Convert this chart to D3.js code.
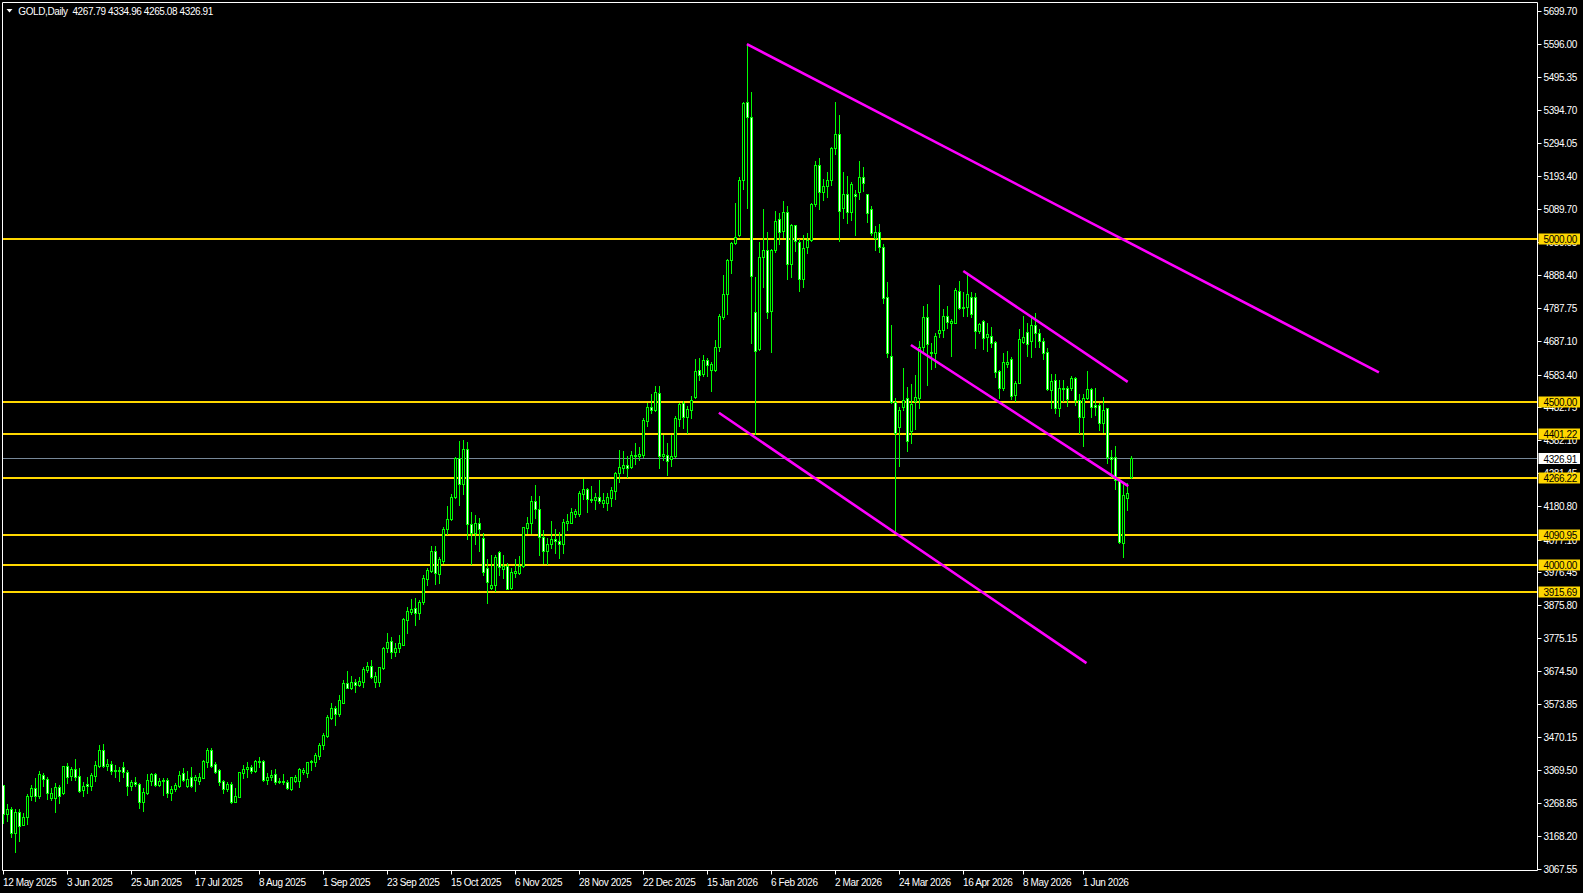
<!DOCTYPE html>
<html><head><meta charset="utf-8">
<script src="https://cdn.jsdelivr.net/npm/d3@7"></script>
<style>html,body{margin:0;padding:0;background:#000;overflow:hidden}text{font-family:"Liberation Sans",Arial,sans-serif;font-size:10px;letter-spacing:-0.4px}</style>
</head><body>
<svg id="c" width="1583" height="893"></svg>
<script>
// ---- data (daily GOLD bars, index 0 = 12 May 2025) ----
const openP=[3323,3234,3250,3176,3240,3203,3227,3289,3314,3290,3354,3342,3285,3285,3317,3299,3382,3352,3372,3353,
3309,3326,3322,3353,3384,3432,3384,3389,3370,3366,3380,3365,3322,3334,3326,3271,3301,3337,3358,3324,
3340,3340,3301,3312,3322,3360,3322,3348,3340,3337,3347,3396,3432,3389,3370,3336,3312,3327,3273,3288,
3362,3372,3378,3368,3396,3398,3340,3348,3357,3336,3332,3334,3312,3337,3336,3365,3362,3394,3394,3414,
3447,3474,3531,3559,3542,3577,3636,3623,3639,3631,3641,3677,3689,3641,3641,3682,3743,3766,3733,3746,
3754,3830,3856,3866,3853,3887,3956,3982,4042,3973,4012,4108,4140,4207,4326,4249,4354,4124,4096,4127,
4081,3989,3930,3938,4038,3987,3997,3930,3976,3975,3997,4114,4127,4195,4170,4084,4043,4065,4079,4074,
4063,4129,4129,4157,4155,4217,4231,4203,4198,4207,4188,4188,4205,4227,4280,4298,4306,4301,4337,4332,
4337,4442,4483,4475,4528,4332,4337,4323,4332,4448,4497,4453,4475,4514,4597,4586,4627,4597,4597,4669,
4760,4829,4934,4986,5011,5179,5418,5373,4776,4661,4945,4964,4779,4964,5059,5024,5083,4921,5041,4991,
4875,4976,4995,5105,5225,5142,5163,5180,5277,5320,5094,5138,5081,5137,5144,5188,5136,5092,5003,5022,
4975,4822,4640,4500,4423,4483,4510,4411,4503,4510,4669,4759,4648,4648,4710,4720,4763,4740,4742,4840,
4789,4789,4822,4820,4718,4747,4699,4702,4682,4594,4543,4615,4630,4520,4558,4684,4715,4687,4735,4712,
4687,4651,4536,4566,4480,4538,4543,4541,4574,4505,4452,4510,4538,4490,4490,4435,4480,4329,4329,4260,
4068,4204,4267.79];
const highP=[3323,3265,3256,3250,3250,3237,3297,3324,3345,3367,3360,3350,3314,3329,3324,3384,3391,3380,3404,3375,
3334,3350,3360,3399,3447,3450,3403,3399,3386,3380,3394,3370,3340,3348,3329,3314,3358,3362,3362,3345,
3345,3345,3322,3329,3368,3377,3368,3378,3355,3360,3401,3437,3437,3394,3373,3340,3334,3334,3314,3365,
3386,3394,3386,3401,3409,3401,3360,3370,3372,3347,3358,3340,3350,3355,3377,3377,3396,3401,3423,3452,
3483,3539,3577,3567,3600,3646,3674,3659,3648,3656,3685,3702,3708,3672,3687,3748,3789,3777,3759,3784,
3835,3871,3895,3899,3892,3968,3989,4057,4057,4024,4117,4180,4217,4329,4379,4382,4375,4161,4154,4144,
4096,4019,4030,4030,4042,4030,4004,3989,4019,4027,4117,4147,4211,4244,4211,4106,4081,4134,4109,4099,
4140,4157,4173,4170,4226,4263,4234,4241,4219,4260,4219,4219,4237,4285,4352,4348,4334,4348,4372,4360,
4450,4497,4525,4547,4547,4398,4372,4398,4456,4497,4503,4486,4517,4632,4633,4643,4633,4622,4689,4768,
4888,4939,4991,5110,5188,5420,5597,5450,4884,4991,5091,5022,4969,5085,5079,5116,5100,5044,5042,5000,
5011,5019,5111,5238,5249,5183,5205,5282,5418,5379,5205,5193,5174,5149,5238,5221,5138,5100,5039,5044,
4985,4866,4735,4510,4483,4604,4546,4553,4582,4687,4794,4800,4679,4710,4858,4783,4794,4753,4848,4870,
4837,4889,4835,4832,4742,4752,4742,4728,4687,4597,4648,4656,4636,4563,4722,4763,4742,4761,4771,4722,
4694,4664,4584,4584,4568,4568,4548,4579,4577,4525,4524,4594,4541,4541,4495,4515,4482,4352,4364,4262,
4250,4250,4334.96];
const lowP=[3207,3215,3166,3120,3153,3201,3204,3278,3275,3285,3321,3281,3278,3242,3270,3297,3331,3340,3340,3304,
3290,3301,3309,3336,3380,3380,3370,3358,3348,3337,3350,3293,3309,3321,3255,3245,3297,3324,3322,3322,
3293,3286,3278,3307,3319,3336,3319,3319,3307,3327,3345,3380,3380,3360,3324,3301,3307,3268,3273,3286,
3345,3348,3360,3365,3380,3338,3327,3340,3327,3329,3327,3312,3309,3334,3319,3358,3350,3370,3384,3403,
3435,3470,3526,3508,3536,3575,3621,3618,3610,3628,3626,3672,3653,3626,3629,3679,3731,3715,3720,3731,
3754,3791,3848,3815,3833,3879,3938,3979,3941,3945,4006,4094,4137,4205,4183,4217,4079,4002,4063,4042,
3968,3883,3925,3920,3968,3958,3925,3925,3963,3971,3994,4096,4096,4144,4030,4004,4002,4052,4037,4021,
4037,4106,4127,4147,4149,4201,4163,4193,4171,4190,4176,4168,4181,4201,4255,4282,4268,4298,4309,4320,
4330,4425,4464,4470,4298,4320,4274,4304,4330,4425,4420,4403,4451,4511,4567,4580,4580,4534,4594,4655,
4755,4770,4895,4984,5009,5153,5094,4680,4401,4660,4851,4757,4652,4960,4984,5006,4876,4882,4961,4840,
4853,4956,4992,5100,5091,5118,5127,5164,5260,4992,5064,5048,5058,5011,5122,5146,5050,5011,4964,4960,
4802,4638,4495,4096,4303,4474,4350,4374,4416,4482,4650,4551,4599,4605,4697,4697,4725,4640,4740,4783,
4763,4763,4761,4664,4712,4661,4655,4669,4575,4510,4536,4607,4507,4503,4556,4679,4640,4636,4667,4669,
4630,4536,4480,4464,4456,4503,4487,4536,4490,4403,4364,4507,4454,4459,4413,4408,4311,4268,4232,4066,
4023,4168,4265.08];
const closeP=[3234,3250,3176,3240,3200,3227,3289,3314,3290,3357,3342,3299,3299,3317,3290,3382,3350,3372,3350,3307,
3322,3322,3355,3386,3432,3384,3389,3368,3368,3370,3365,3322,3334,3327,3273,3304,3340,3358,3324,3336,
3336,3301,3312,3324,3355,3340,3343,3322,3348,3348,3398,3432,3384,3365,3334,3312,3327,3273,3290,3363,
3372,3378,3368,3398,3398,3340,3348,3355,3334,3332,3336,3314,3348,3350,3373,3370,3394,3397,3416,3447,
3478,3532,3559,3542,3585,3636,3623,3639,3631,3642,3680,3689,3656,3659,3685,3746,3762,3733,3746,3759,
3833,3858,3863,3853,3887,3958,3984,4042,3975,4017,4109,4140,4207,4326,4249,4354,4124,4096,4127,4110,
3979,3948,3938,4024,3994,3997,3927,3979,3981,3997,4115,4127,4195,4170,4084,4043,4065,4078,4074,4062,
4132,4134,4161,4165,4219,4231,4203,4198,4207,4196,4198,4207,4229,4282,4299,4306,4298,4335,4332,4340,
4444,4483,4475,4530,4332,4339,4317,4334,4450,4492,4453,4477,4506,4595,4582,4627,4613,4615,4669,4763,
4829,4934,4986,5006,5179,5415,5373,4887,4657,4945,4964,4776,4964,5055,5022,5083,4921,5041,4992,4875,
4973,4995,5105,5225,5142,5163,5180,5277,5320,5086,5138,5081,5169,5130,5190,5172,5078,5017,5022,4975,
4817,4648,4500,4403,4474,4505,4380,4493,4513,4667,4759,4676,4653,4701,4720,4763,4745,4748,4843,4788,
4786,4830,4769,4718,4738,4694,4707,4681,4592,4543,4621,4623,4518,4556,4691,4697,4676,4735,4712,4687,
4648,4538,4564,4480,4541,4543,4507,4574,4505,4454,4510,4538,4483,4485,4434,4475,4329,4325,4260,4071,
4214,4220,4326.91];
const header="GOLD,Daily  4267.79 4334.96 4265.08 4326.91";
const dateTickBars=[0,16,32,48,64,80,96,112,128,144,160,176,192,208,224,240,255,270];
const dateTickLabels=["12 May 2025","3 Jun 2025","25 Jun 2025","17 Jul 2025","8 Aug 2025","1 Sep 2025","23 Sep 2025","15 Oct 2025","6 Nov 2025","28 Nov 2025","22 Dec 2025","15 Jan 2026","6 Feb 2026","2 Mar 2026","24 Mar 2026","16 Apr 2026","8 May 2026","1 Jun 2026"];
const priceTicks=[5699.70,5596.00,5495.35,5394.70,5294.05,5193.40,5089.70,4989.05,4888.40,4787.75,4687.10,4583.40,4482.75,4382.10,4281.45,4180.80,4077.10,3976.45,3875.80,3775.15,3674.50,3573.85,3470.15,3369.50,3268.85,3168.20,3067.55];
const levels=[5000,4500,4401.22,4266.22,4090.95,4000,3915.69];
const lastPrice=4326.91;
const trendStartBar=[185.9,240,226.9,178.9];
const trendStartPrice=[5597,4901,4674,4466];
const trendEndBar=[343.9,281.1,281.25,270.8];
const trendEndPrice=[4590,4561,4241,3698];

// ---- drawing ----
const svg=d3.select("#c");
const L=2.5,T=2.5,R=1537.5,B=870.5;
const x=d3.scaleLinear().domain([0,383.425]).range([3.3,1537]);
const y=d3.scaleLinear().domain([3063.5,5726.1]).range([870,2]);
svg.append("rect").attr("width",1583).attr("height",893).attr("fill","#000");
svg.append("defs").append("clipPath").attr("id","pc").append("rect").attr("x",3).attr("y",3).attr("width",R-3).attr("height",B-3);
const plot=svg.append("g").attr("clip-path","url(#pc)");

// horizontal levels
plot.selectAll(".lvl").data(levels).enter().append("line")
 .attr("x1",3).attr("x2",R).attr("y1",d=>Math.round(y(d))).attr("y2",d=>Math.round(y(d)))
 .attr("stroke","#FFD700").attr("stroke-width",2);
plot.append("line").attr("x1",3).attr("x2",R).attr("y1",Math.round(y(lastPrice))+0.5).attr("y2",Math.round(y(lastPrice))+0.5)
 .attr("stroke","#778899").attr("stroke-width",1);

// candles
const bars=d3.range(openP.length);
const cg=plot.append("g");
bars.forEach(i=>{
  const cx=Math.round(x(i));
  const o=openP[i],c=closeP[i],h=highP[i],l=lowP[i];
  cg.append("line").attr("x1",cx+0.5).attr("x2",cx+0.5).attr("y1",Math.round(y(h))).attr("y2",Math.round(y(l))+1)
    .attr("stroke","#00FF00").attr("stroke-width",1);
  const yt=Math.round(y(Math.max(o,c))), yb=Math.round(y(Math.min(o,c)));
  if(yb-yt<1){
    cg.append("line").attr("x1",cx-1).attr("x2",cx+2).attr("y1",yt+0.5).attr("y2",yt+0.5).attr("stroke","#00FF00");
  } else {
    cg.append("rect").attr("x",cx-0.5).attr("y",yt+0.5).attr("width",2).attr("height",yb-yt)
      .attr("fill",c>=o?"#000":"#fff").attr("stroke","#00FF00").attr("stroke-width",1);
  }
});

// trend lines
plot.selectAll(".tr").data(trendStartBar).enter().append("line")
 .attr("x1",(d,i)=>x(trendStartBar[i])).attr("y1",(d,i)=>y(trendStartPrice[i]))
 .attr("x2",(d,i)=>x(trendEndBar[i])).attr("y2",(d,i)=>y(trendEndPrice[i]))
 .attr("stroke","#FF00FF").attr("stroke-width",2.6);

// frame
svg.append("path").attr("d",`M${L},${T}H${R}V${B}H${L}Z`).attr("fill","none").attr("stroke","#fff").attr("stroke-width",1);

// price axis
const pa=svg.append("g");
priceTicks.forEach(p=>{
  const yy=Math.round(y(p))+0.5;
  pa.append("line").attr("x1",R).attr("x2",R+4).attr("y1",yy).attr("y2",yy).attr("stroke","#fff");
  pa.append("text").attr("x",1543.5).attr("y",yy+3.6).attr("fill","#fff").text(p.toFixed(2));
});
// level labels
levels.forEach(p=>{
  const yy=Math.round(y(p));
  pa.append("rect").attr("x",1538.5).attr("y",yy-5.5).attr("width",41.5).attr("height",11).attr("fill","#FFD700");
  pa.append("text").attr("x",1543.5).attr("y",yy+4).attr("fill","#000").text(p.toFixed(2));
});
{
  const yy=Math.round(y(lastPrice));
  pa.append("rect").attr("x",1538.5).attr("y",yy-5).attr("width",41.5).attr("height",11).attr("fill","#fff");
  pa.append("text").attr("x",1543.5).attr("y",yy+4.5).attr("fill","#000").text(lastPrice.toFixed(2));
}

// date axis
const da=svg.append("g");
dateTickBars.forEach((b,k)=>{
  const xx=Math.round(x(b))+0.5;
  da.append("line").attr("x1",xx).attr("x2",xx).attr("y1",B).attr("y2",B+4).attr("stroke","#fff");
  da.append("text").attr("x",xx-0.5).attr("y",885.5).attr("fill","#fff").text(dateTickLabels[k]);
});

// header
svg.append("path").attr("d","M6.5,9 L12.5,9 L9.5,12.5 Z").attr("fill","#fff");
svg.append("text").attr("x",18.3).attr("y",14.5).attr("fill","#fff").attr("xml:space","preserve").style("white-space","pre").text(header);
</script>
</body></html>
